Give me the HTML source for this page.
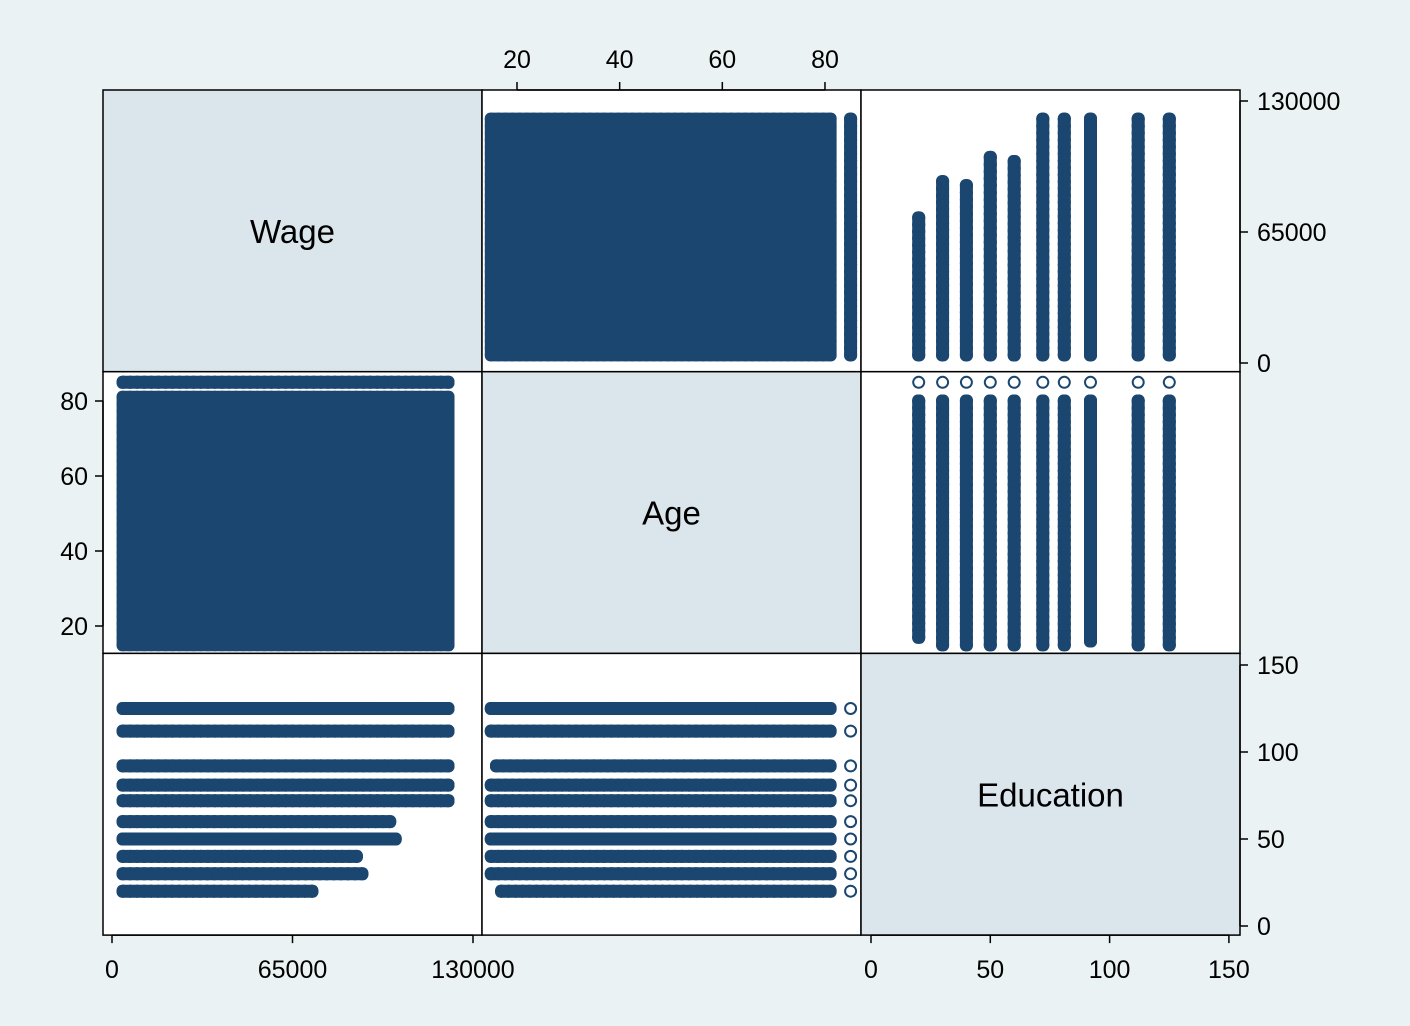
<!DOCTYPE html>
<html><head><meta charset="utf-8"><style>
body{margin:0;background:#eaf2f3;}
svg{display:block;font-family:"Liberation Sans",Arial,sans-serif;}
</style></head><body>
<svg id="chart" width="1410" height="1026" viewBox="0 0 1410 1026" xmlns="http://www.w3.org/2000/svg">
<rect x="0" y="0" width="1410" height="1026" fill="#eaf2f3"/>
<g id="cells"></g><g id="marks"></g><g id="axes"></g>
</svg>
<script>
// Data: summary of observations by education level
const eduLevels = [20, 30, 40, 50, 60, 72, 81, 92, 112, 125];
const eduWageMax = [72000, 90000, 88000, 102000, 100000, 121000, 121000, 121000, 121000, 121000];
const eduAgeMin = [17, 15, 15, 15, 15, 15, 15, 16, 15, 15];
const eduAgeMax = [80, 80, 80, 80, 80, 80, 80, 80, 80, 80];
const ageRange = [15, 81];
const ageOutlier = [85];
const wageRange = [4000, 121000];
const wageTicks = [0, 65000, 130000];
const ageTicks = [20, 40, 60, 80];
const eduTicks = [0, 50, 100, 150];
const varNames = ["Wage", "Age", "Education"];

const NS = "http://www.w3.org/2000/svg";
const X0 = 103, Y0 = 90, CW = 379, CH = 281.7;
const COL = "#1a4670";
const R = 5.5;
const xs = [v => 112 + v * (473 - 112) / 130000, v => 517 + (v - 20) * 5.133, v => 871 + v * 2.386];
const ys = [v => 363 - v * (363 - 101) / 130000, v => 626 - (v - 20) * 3.75, v => 926 - v * 1.74];
function X(varI, col, v) { return xs[varI](v) + (col - varI) * CW; }
function Y(varI, row, v) { return ys[varI](v) + (row - varI) * CH; }
function el(tag, attrs, parent) { const e = document.createElementNS(NS, tag); for (const k in attrs) e.setAttribute(k, attrs[k]); parent.appendChild(e); return e; }
const cells = document.getElementById("cells"), marks = document.getElementById("marks"), axes = document.getElementById("axes");

for (let r = 0; r < 3; r++) for (let c = 0; c < 3; c++) {
  const rc = el("rect", { x: X0 + c * CW, y: Y0 + r * CH, width: CW, height: CH, fill: r === c ? "#dae6ec" : "#ffffff", stroke: "#000", "stroke-width": 1.5 }, cells);
  
  
  if (r === c) {
    const t = el("text", { x: X0 + c * CW + CW / 2, y: Y0 + r * CH + CH / 2 + 12, "text-anchor": "middle", "font-size": 33 }, cells);
    t.textContent = varNames[r];
    
    
  }
}

function strip(g, x1, y1, x2, y2) {
  const xa = Math.min(x1, x2), xb = Math.max(x1, x2), ya = Math.min(y1, y2), yb = Math.max(y1, y2);
  el("rect", { x: (xa - R - 1).toFixed(1), y: (ya - R - 1).toFixed(1), width: (xb - xa + 2 * R + 2).toFixed(1), height: (yb - ya + 2 * R + 2).toFixed(1), rx: R, fill: COL, stroke: "none" }, g);
  const pts = [];
  const nx = Math.max(1, Math.round((xb - xa) / 7)), ny = Math.max(1, Math.round((yb - ya) / 7));
  for (let i = 0; i <= nx; i++) { const x = xa + (xb - xa) * i / nx; pts.push([x, ya]); pts.push([x, yb]); }
  for (let j = 1; j < ny; j++) { const y = ya + (yb - ya) * j / ny; pts.push([xa, y]); pts.push([xb, y]); }
  pts.forEach(p => el("circle", { cx: p[0].toFixed(1), cy: p[1].toFixed(1), r: R }, g));
}
function group(name) { const g = el("g", { fill: "none", stroke: COL, "stroke-width": 2 }, marks);   return g; }

let g = group("points-wage-vs-age");
strip(g, X(1, 1, ageRange[0]), Y(0, 0, wageRange[0]), X(1, 1, ageRange[1]), Y(0, 0, wageRange[1]));
ageOutlier.forEach(a => strip(g, X(1, 1, a), Y(0, 0, wageRange[0]), X(1, 1, a), Y(0, 0, wageRange[1])));
g = group("points-age-vs-wage");
strip(g, X(0, 0, wageRange[0]), Y(1, 1, ageRange[0]), X(0, 0, wageRange[1]), Y(1, 1, ageRange[1]));
ageOutlier.forEach(a => strip(g, X(0, 0, wageRange[0]), Y(1, 1, a), X(0, 0, wageRange[1]), Y(1, 1, a)));
let g1 = group("points-wage-vs-education"), g2 = group("points-education-vs-wage");
let g3 = group("points-age-vs-education"), g4 = group("points-education-vs-age");
eduLevels.forEach((e, i) => {
  strip(g1, X(2, 2, e), Y(0, 0, wageRange[0]), X(2, 2, e), Y(0, 0, eduWageMax[i]));
  strip(g2, X(0, 0, wageRange[0]), Y(2, 2, e), X(0, 0, eduWageMax[i]), Y(2, 2, e));
  strip(g3, X(2, 2, e), Y(1, 1, eduAgeMin[i]), X(2, 2, e), Y(1, 1, eduAgeMax[i]));
  ageOutlier.forEach(a => el("circle", { cx: X(2, 2, e).toFixed(1), cy: Y(1, 1, a).toFixed(1), r: R }, g3));
  strip(g4, X(1, 1, eduAgeMin[i]), Y(2, 2, e), X(1, 1, ageRange[1]), Y(2, 2, e));
  ageOutlier.forEach(a => el("circle", { cx: X(1, 1, a).toFixed(1), cy: Y(2, 2, e).toFixed(1), r: R }, g4));
});

function tick(x1, y1, x2, y2, tx, ty, anchor, label, name) {
  const l = el("line", { x1, y1, x2, y2, stroke: "#000", "stroke-width": 1.5 }, axes);
  
  
  const t = el("text", { x: tx, y: ty, "text-anchor": anchor, "font-size": 25 }, axes);
  t.textContent = label;
  
  
}
function axisLine(x1, y1, x2, y2, name) {
  const l = el("line", { x1, y1, x2, y2, stroke: "#000", "stroke-width": 1.5 }, axes);
  
  
}
const yb = Y0 + 3 * CH;
axisLine(X(0, 0, 0), yb, X(0, 0, 130000), yb, "wage-x-axis");
wageTicks.forEach(v => tick(X(0, 0, v), yb, X(0, 0, v), yb + 8, X(0, 0, v), yb + 43, "middle", String(v), "wage-x-tick-" + v));
axisLine(X(2, 2, 0), yb, X(2, 2, 150), yb, "education-x-axis");
eduTicks.forEach(v => tick(X(2, 2, v), yb, X(2, 2, v), yb + 8, X(2, 2, v), yb + 43, "middle", String(v), "education-x-tick-" + v));
axisLine(X(1, 1, 20), Y0, X(1, 1, 80), Y0, "age-x-axis");
ageTicks.forEach(v => tick(X(1, 1, v), Y0, X(1, 1, v), Y0 - 8, X(1, 1, v), Y0 - 22, "middle", String(v), "age-x-tick-" + v));
const xr = X0 + 3 * CW;
axisLine(xr, Y(0, 0, 0), xr, Y(0, 0, 130000), "wage-y-axis");
wageTicks.forEach(v => tick(xr, Y(0, 0, v), xr + 8, Y(0, 0, v), xr + 17, Y(0, 0, v) + 9, "start", String(v), "wage-y-tick-" + v));
axisLine(xr, Y(2, 2, 0), xr, Y(2, 2, 150), "education-y-axis");
eduTicks.forEach(v => tick(xr, Y(2, 2, v), xr + 8, Y(2, 2, v), xr + 17, Y(2, 2, v) + 9, "start", String(v), "education-y-tick-" + v));
axisLine(X0, Y(1, 1, 20), X0, Y(1, 1, 80), "age-y-axis");
ageTicks.forEach(v => tick(X0, Y(1, 1, v), X0 - 8, Y(1, 1, v), X0 - 15, Y(1, 1, v) + 9, "end", String(v), "age-y-tick-" + v));
</script>
</body></html>
